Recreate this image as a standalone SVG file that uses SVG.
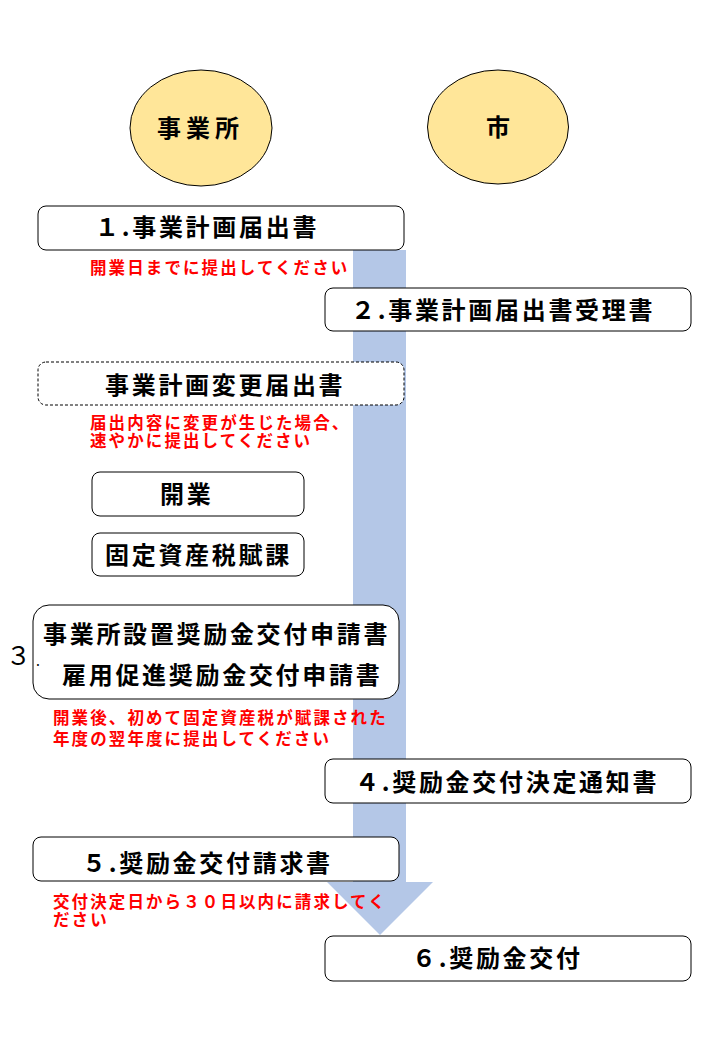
<svg xmlns="http://www.w3.org/2000/svg" width="720" height="1040" viewBox="0 0 720 1040">
<style>
.box{fill:#fff;stroke:#000;stroke-width:1}
.dash{fill:#fff;stroke:#000;stroke-width:1;stroke-dasharray:3 2}
.ell{fill:#ffe699;stroke:#000;stroke-width:1}
.t{font-family:"Noto Sans CJK JP","Liberation Sans",sans-serif;font-weight:700;font-size:24px;letter-spacing:2.7px;fill:#000}
.r{font-family:"Noto Sans CJK JP","Liberation Sans",sans-serif;font-weight:700;font-size:16.5px;letter-spacing:2.1px;fill:#ff0000}
.n{font-family:"Noto Sans CJK JP","Liberation Sans",sans-serif;font-weight:400;fill:#000}
.flow{fill:#b4c7e7}
</style>
<rect width="720" height="1040" fill="#fff"/>
<g id="connectors">
<path class="flow" d="M353,250 H406 V882 H433 L380,935 L327,882 H353 Z"/>
</g>
<g id="actor-jigyosho">
<ellipse class="ell" cx="201" cy="128" rx="71" ry="58"/>
<text class="t" x="157" y="137" style="letter-spacing:5px">事業所</text>
</g>
<g id="actor-shi">
<ellipse class="ell" cx="498" cy="127" rx="70.5" ry="57"/>
<text class="t" x="486" y="136">市</text>
</g>
<g id="step1">
<rect class="box" x="38" y="206" width="366" height="44" rx="8"/>
<text class="t" x="95" y="236">１.事業計画届出書</text>
</g>
<g id="note1">
<text class="r" x="90" y="274">開業日までに提出してください</text>
</g>
<g id="step2">
<rect class="box" x="325" y="288" width="366" height="43" rx="8"/>
<text class="t" x="351" y="319">２.事業計画届出書受理書</text>
</g>
<g id="change">
<rect class="dash" x="38" y="362" width="366" height="43" rx="8"/>
<text class="t" x="105" y="394">事業計画変更届出書</text>
</g>
<g id="note-change">
<text class="r" x="90" y="429">届出内容に変更が生じた場合、</text>
<text class="r" x="90" y="447">速やかに提出してください</text>
</g>
<g id="kaigyo">
<rect class="box" x="92" y="472" width="212" height="44" rx="8"/>
<text class="t" x="160" y="503">開業</text>
</g>
<g id="fuka">
<rect class="box" x="92" y="533" width="212" height="43" rx="8"/>
<text class="t" x="105" y="564">固定資産税賦課</text>
</g>
<g id="step3">
<text class="n" x="6" y="665" font-size="25">３</text>
<rect class="box" x="33" y="605" width="366" height="94" rx="16"/>
<text class="n" x="36" y="666" font-size="14">.</text>
<text class="t" x="43" y="643">事業所設置奨励金交付申請書</text>
<text class="t" x="62" y="684">雇用促進奨励金交付申請書</text>
</g>
<g id="note3">
<text class="r" x="53" y="724">開業後、初めて固定資産税が賦課された</text>
<text class="r" x="53" y="745">年度の翌年度に提出してください</text>
</g>
<g id="step4">
<rect class="box" x="325" y="759" width="366" height="44" rx="8"/>
<text class="t" x="355" y="791">４.奨励金交付決定通知書</text>
</g>
<g id="step5">
<rect class="box" x="33" y="837" width="366" height="44" rx="8"/>
<text class="t" x="82" y="872">５.奨励金交付請求書</text>
</g>
<g id="note5">
<text class="r" x="53" y="908">交付決定日から３０日以内に請求してく</text>
<text class="r" x="53" y="926">ださい</text>
</g>
<g id="step6">
<rect class="box" x="325" y="936" width="366" height="45" rx="8"/>
<text class="t" x="412" y="967">６.奨励金交付</text>
</g>
</svg>
